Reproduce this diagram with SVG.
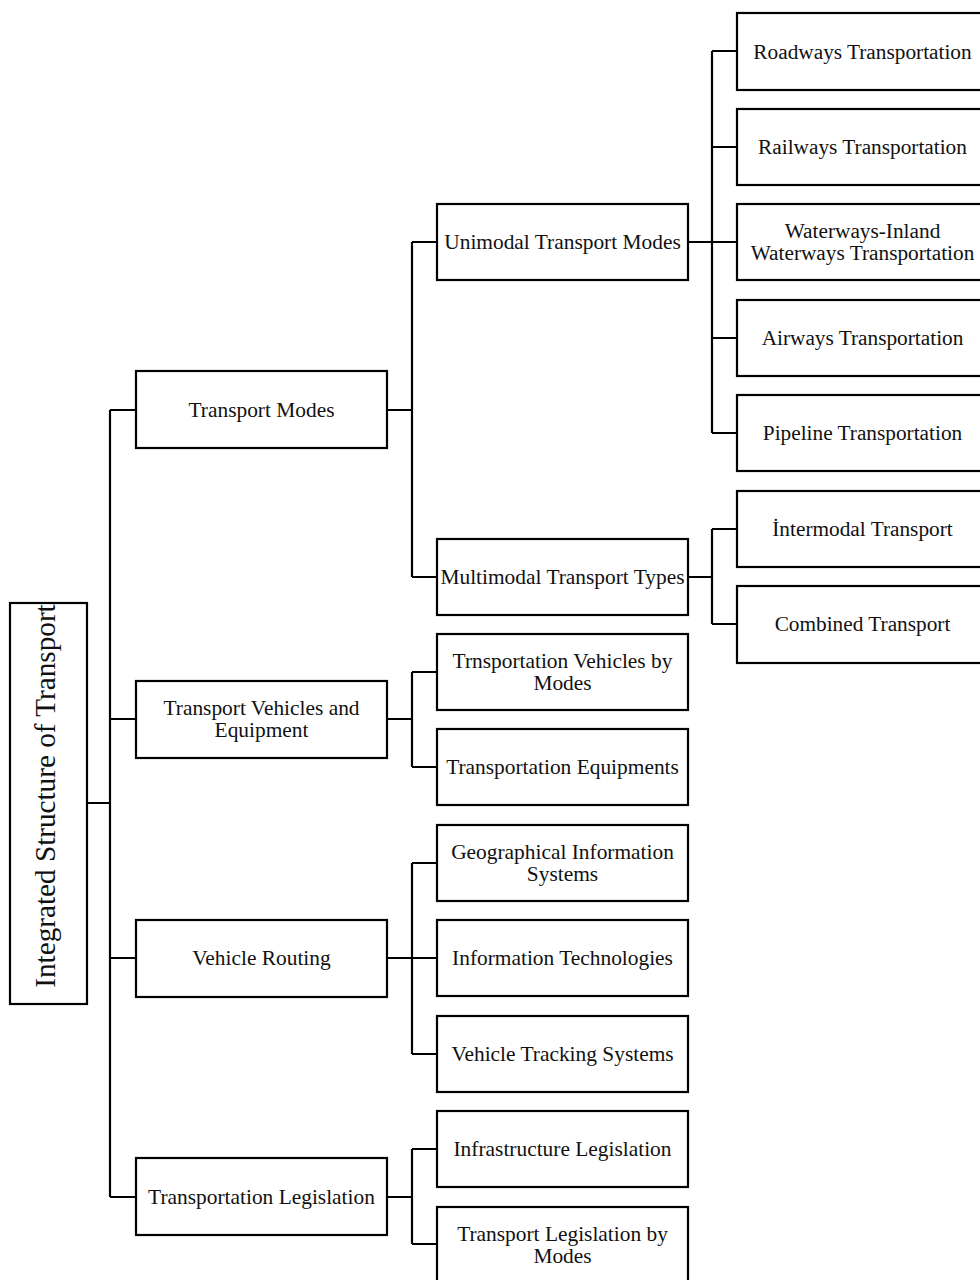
<svg xmlns="http://www.w3.org/2000/svg" width="980" height="1280" viewBox="0 0 980 1280">
<style>
rect{fill:#fff;stroke:#000;stroke-width:2.2}
text{font-family:"Liberation Serif","Times New Roman",serif;font-size:21.4px;fill:#111;text-anchor:middle}
.l3 text{font-size:21.3px}
#connectors path{fill:none;stroke:#000;stroke-width:2.2}
</style>
<rect x="0" y="0" width="980" height="1280" style="stroke:none"/>
<g id="connectors">
<path d="M87,803H110M110,410V1197M110,410H136M110,719H136M110,958H136M110,1197H136"/>
<path d="M387,410H412M412,242V577M412,242H437M412,577H437"/>
<path d="M387,719H412M412,672V767M412,672H437M412,767H437"/>
<path d="M387,958H412M412,863V1054M412,863H437M412,958H437M412,1054H437"/>
<path d="M387,1197H412M412,1149V1244M412,1149H437M412,1244H437"/>
<path d="M688,242H712M712,51V433M712,51H737M712,147H737M712,242H737M712,338H737M712,433H737"/>
<path d="M688,577H712M712,529V624M712,529H737M712,624H737"/>
</g>
<g id="root"><rect x="10" y="603" width="77" height="401"/><text transform="translate(55,796) rotate(-90)" style="font-size:29.2px">Integrated Structure of Transport</text></g>
<g id="n-modes"><rect x="136" y="371" width="251" height="77"/><text x="261.5" y="417">Transport Modes</text></g>
<g id="n-vehicles"><rect x="136" y="681" width="251" height="77"/><text x="261.5" y="715">Transport Vehicles and</text><text x="261.5" y="737">Equipment</text></g>
<g id="n-routing"><rect x="136" y="920" width="251" height="77"/><text x="261.5" y="965">Vehicle Routing</text></g>
<g id="n-legislation"><rect x="136" y="1158" width="251" height="77"/><text x="261.5" y="1204">Transportation Legislation</text></g>
<g id="n-unimodal"><rect x="437" y="204" width="251" height="76"/><text x="562.5" y="249">Unimodal Transport Modes</text></g>
<g id="n-multimodal"><rect x="437" y="539" width="251" height="76"/><text x="562.5" y="584">Multimodal Transport Types</text></g>
<g id="n-tvbm"><rect x="437" y="634" width="251" height="76"/><text x="562.5" y="668">Trnsportation Vehicles by</text><text x="562.5" y="690">Modes</text></g>
<g id="n-equip"><rect x="437" y="729" width="251" height="76"/><text x="562.5" y="774">Transportation Equipments</text></g>
<g id="n-gis"><rect x="437" y="825" width="251" height="76"/><text x="562.5" y="859">Geographical Information</text><text x="562.5" y="881">Systems</text></g>
<g id="n-it"><rect x="437" y="920" width="251" height="76"/><text x="562.5" y="965">Information Technologies</text></g>
<g id="n-vts"><rect x="437" y="1016" width="251" height="76"/><text x="562.5" y="1061">Vehicle Tracking Systems</text></g>
<g id="n-infra"><rect x="437" y="1111" width="251" height="76"/><text x="562.5" y="1156">Infrastructure Legislation</text></g>
<g id="n-tlbm"><rect x="437" y="1207" width="251" height="80"/><text x="562.5" y="1241">Transport Legislation by</text><text x="562.5" y="1263">Modes</text></g>
<g class="l3">
<g id="n-road"><rect x="737" y="13" width="251" height="77"/><text x="862.5" y="59">Roadways Transportation</text></g>
<g id="n-rail"><rect x="737" y="109" width="251" height="76"/><text x="862.5" y="154">Railways Transportation</text></g>
<g id="n-water"><rect x="737" y="204" width="251" height="76"/><text x="862.5" y="238">Waterways-Inland</text><text x="862.5" y="260">Waterways Transportation</text></g>
<g id="n-air"><rect x="737" y="300" width="251" height="76"/><text x="862.5" y="345">Airways Transportation</text></g>
<g id="n-pipe"><rect x="737" y="395" width="251" height="76"/><text x="862.5" y="440">Pipeline Transportation</text></g>
<g id="n-inter"><rect x="737" y="491" width="251" height="76"/><text x="862.5" y="536">İntermodal Transport</text></g>
<g id="n-comb"><rect x="737" y="586" width="251" height="77"/><text x="862.5" y="631">Combined Transport</text></g>
</g>
</svg>
